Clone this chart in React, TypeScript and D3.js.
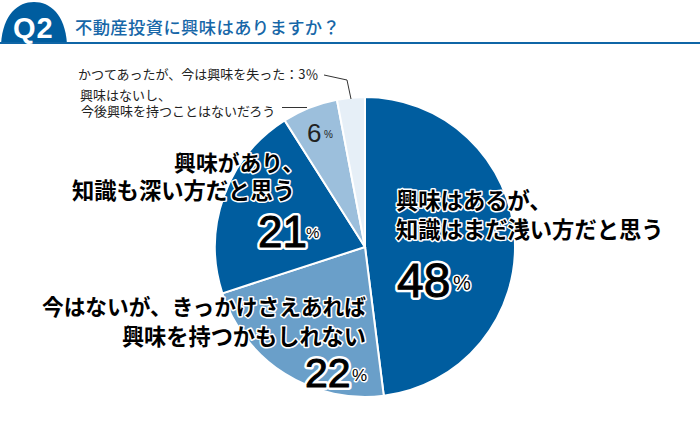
import React from "react";
import * as d3 from "d3";

const title = "不動産投資に興味はありますか？";
const categories = [
  "興味はあるが、知識はまだ浅い方だと思う",
  "今はないが、きっかけさえあれば興味を持つかもしれない",
  "興味があり、知識も深い方だと思う",
  "興味はないし、今後興味を持つことはないだろう",
  "かつてあったが、今は興味を失った",
];
const values = [48, 22, 21, 6, 3];
const colors = ["#005d9f", "#6a9fc9", "#005d9f", "#9cbfdc", "#e6eff7"];

const font = "'Noto Sans CJK JP', 'Noto Sans', sans-serif";
const latin = "'Liberation Sans', Arial, sans-serif";

// big bold label with the white halo round the glyphs
function Halo(props: any) {
  const { x, y, size, anchor, children } = props;
  return (
    <text
      x={x}
      y={y}
      fontSize={size}
      fontFamily={font}
      fontWeight={700}
      textAnchor={anchor || "start"}
      fill="#000"
      stroke="#fff"
      strokeWidth={3}
      strokeLinejoin="round"
      paintOrder="stroke"
    >
      {children}
    </text>
  );
}

// percent figure: thickened regular digits, halo drawn underneath
function Pct(props: any) {
  const { x, y, size, smallSize, value, pctX, pctY } = props;
  return (
    <g fontFamily={latin} strokeLinejoin="round">
      <text x={x} y={y} fontSize={size} fill="#000" stroke="#fff" strokeWidth={6}>{value}</text>
      <text x={x} y={y} fontSize={size} fill="#000" stroke="#000" strokeWidth={1}>{value}</text>
      <text x={pctX} y={pctY} fontSize={smallSize} fill="#000" stroke="#fff" strokeWidth={3} paintOrder="stroke">%</text>
    </g>
  );
}

export default function App() {
  const pie = d3.pie<number>().sort(null).value((d) => d);
  const arc = d3.arc<d3.PieArcDatum<number>>().innerRadius(0).outerRadius(150);
  const slices = pie(values);

  return (
    <svg
      width={700}
      height={421}
      style={{ position: "absolute", left: 0, top: 0, background: "#fff" }}
    >
      {/* header */}
      <path d="M1,44 C3,14 18,2 34,2 C50,2 65,14 67,44 Z" fill="#005d9f" />
      <rect x={0} y={42} width={700} height={2} fill="#0f65a6" />
      <text x={13} y={38} fontFamily={latin} fontWeight={700} fontSize={29} fill="#fff" letterSpacing={1}>Q2</text>
      <text x={75} y={34} fontFamily={font} fontSize={17.3} fontWeight={500} fill="#1767a8" letterSpacing={0.4}>{title}</text>

      {/* pie */}
      <g transform="translate(365,247)">
        {slices.map((s, i) => (
          <path key={categories[i]} d={arc(s) || ""} fill={colors[i]} stroke="#fff" strokeWidth={2} />
        ))}
      </g>

      {/* leader lines */}
      <polyline points="324,75 347,80 351,99" fill="none" stroke="#333" strokeWidth={1} />
      <line x1={282} y1={107.5} x2={307} y2={107.5} stroke="#333" strokeWidth={1} />

      {/* small labels */}
      <g fontFamily={font} fontSize={13} fill="#222">
        <text x={78} y={79}>かつてあったが、今は興味を失った：3％</text>
        <text x={80} y={100}>興味はないし、</text>
        <text x={81} y={116}>今後興味を持つことはないだろう</text>
      </g>

      <text x={307} y={142} fontFamily={latin} fontSize={26} fill="#222">{values[3]}</text>
      <text x={324} y={138} fontFamily={latin} fontSize={10} fill="#222">%</text>

      {/* big labels */}
      <Halo x={304} y={171} size={21.8} anchor="end">興味があり、</Halo>
      <Halo x={295} y={199} size={22.3} anchor="end">知識も深い方だと思う</Halo>
      <Pct x={258} y={247} size={44} smallSize={15} value={values[2]} pctX={306} pctY={238} />

      <Halo x={396} y={209} size={22.3}>興味はあるが、</Halo>
      <Halo x={396} y={238} size={22.3}>知識はまだ浅い方だと思う</Halo>
      <Pct x={397} y={297} size={48} smallSize={20} value={values[0]} pctX={453} pctY={290} />

      <Halo x={366} y={315} size={21.7} anchor="end">今はないが、きっかけさえあれば</Halo>
      <Halo x={366} y={345} size={22.2} anchor="end">興味を持つかもしれない</Halo>
      <Pct x={305} y={387} size={41} smallSize={17} value={values[1]} pctX={352} pctY={381} />
    </svg>
  );
}
